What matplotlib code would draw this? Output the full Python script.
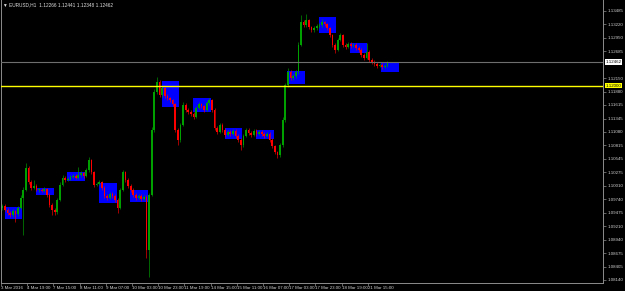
import matplotlib
matplotlib.use('Agg')
import numpy as np
import matplotlib.pyplot as plt
from matplotlib.patches import Rectangle
from matplotlib.transforms import blended_transform_factory

# EURUSD H1 chart, candles (grouped by 2 hours)
title = '\u25bc EURUSD,H1  1.12266 1.12441 1.12348 1.12462'
first_open = 1.0957
closes = [
    1.0961, 1.0953, 1.0947, 1.0943, 1.0951, 1.0945, 1.0957, 1.0977, 1.0993, 1.1036,
    1.1009, 1.0997, 1.1001, 1.0993, 1.0993, 1.0991, 1.0995, 1.0983, 1.0963, 1.0953,
    1.0949, 1.0973, 1.1003, 1.1017, 1.1013, 1.1015, 1.1019, 1.1021, 1.1017, 1.1022,
    1.1026, 1.1021, 1.1032, 1.1052, 1.1028, 1.1003, 1.1005, 1.1009, 1.0997, 1.0981,
    1.0977, 1.0985, 1.0981, 1.0973, 1.0957, 1.0993, 1.1028, 1.1013, 1.1001, 1.0993,
    1.0983, 1.0977, 1.0981, 1.0975, 1.0979, 1.0874, 1.0983, 1.1112, 1.1187, 1.1207,
    1.1181, 1.1195, 1.1179, 1.1175, 1.1171, 1.1163, 1.1112, 1.1092, 1.1122, 1.1162,
    1.1152, 1.1148, 1.1144, 1.1138, 1.1156, 1.1163, 1.1159, 1.1152, 1.1165, 1.1171,
    1.1152, 1.1116, 1.1108, 1.1122, 1.1112, 1.1102, 1.1108, 1.1104, 1.1110, 1.1100,
    1.1092, 1.1082, 1.1100, 1.1112, 1.1106, 1.1102, 1.1110, 1.1104, 1.1108, 1.1104,
    1.1100, 1.1104, 1.1092, 1.1080, 1.1068, 1.1062, 1.1082, 1.1132, 1.1201, 1.1227,
    1.1215, 1.1219, 1.1227, 1.1281, 1.1326, 1.1320, 1.1330, 1.1316, 1.1310, 1.1314,
    1.1318, 1.1320, 1.1326, 1.1322, 1.1314, 1.1300, 1.1281, 1.1271, 1.1291, 1.1300,
    1.1281, 1.1277, 1.1283, 1.1279, 1.1281, 1.1275, 1.1271, 1.1261, 1.1255, 1.1267,
    1.1251, 1.1247, 1.1243, 1.1239, 1.1241, 1.1237, 1.1239, 1.1246,
]
highs = [
    1.0965, 1.0964, 1.0956, 1.0950, 1.0954, 1.0953, 1.0960, 1.0983, 1.0998, 1.1046,
    1.1040, 1.1012, 1.1013, 1.1004, 1.0997, 1.0996, 1.0998, 1.0997, 1.0986, 1.0966,
    1.0957, 1.0976, 1.1008, 1.1022, 1.1020, 1.1019, 1.1023, 1.1025, 1.1024, 1.1038,
    1.1030, 1.1029, 1.1036, 1.1058, 1.1055, 1.1031, 1.1009, 1.1013, 1.1011, 1.1000,
    1.0985, 1.0989, 1.0988, 1.0984, 1.0976, 1.0997, 1.1032, 1.1031, 1.1016, 1.1004,
    1.0996, 1.0986, 1.0985, 1.0984, 1.0983, 1.0982, 1.0987, 1.1118, 1.1193, 1.1217,
    1.1211, 1.1200, 1.1198, 1.1183, 1.1178, 1.1174, 1.1166, 1.1115, 1.1126, 1.1167,
    1.1165, 1.1155, 1.1151, 1.1147, 1.1160, 1.1167, 1.1166, 1.1162, 1.1169, 1.1176,
    1.1174, 1.1155, 1.1119, 1.1126, 1.1125, 1.1115, 1.1112, 1.1111, 1.1114, 1.1113,
    1.1103, 1.1095, 1.1104, 1.1116, 1.1115, 1.1109, 1.1114, 1.1113, 1.1112, 1.1111,
    1.1107, 1.1108, 1.1107, 1.1095, 1.1083, 1.1071, 1.1086, 1.1137, 1.1206, 1.1235,
    1.1230, 1.1223, 1.1231, 1.1286, 1.1340, 1.1330, 1.1342, 1.1333, 1.1319, 1.1318,
    1.1322, 1.1324, 1.1333, 1.1329, 1.1325, 1.1317, 1.1303, 1.1284, 1.1295, 1.1305,
    1.1303, 1.1284, 1.1287, 1.1286, 1.1285, 1.1284, 1.1278, 1.1274, 1.1264, 1.1285,
    1.1270, 1.1254, 1.1250, 1.1246, 1.1245, 1.1244, 1.1242, 1.1249,
]
lows = [
    1.0953, 1.0950, 1.0943, 1.0940, 1.0940, 1.0929, 1.0942, 1.0954, 1.0903, 1.0990,
    1.1005, 1.0993, 1.0994, 1.0990, 1.0989, 1.0988, 1.0988, 1.0979, 1.0958, 1.0943,
    1.0944, 1.0946, 1.0970, 1.1000, 1.1009, 1.1010, 1.1012, 1.1016, 1.1014, 1.1014,
    1.1018, 1.1017, 1.1018, 1.1029, 1.1024, 1.0999, 1.1000, 1.1002, 1.0993, 1.0977,
    1.0973, 1.0974, 1.0977, 1.0969, 1.0947, 1.0954, 1.0990, 1.1009, 1.0997, 1.0989,
    1.0979, 1.0973, 1.0974, 1.0971, 1.0972, 1.0858, 1.0820, 1.0980, 1.1108, 1.1183,
    1.1177, 1.1178, 1.1175, 1.1171, 1.1167, 1.1159, 1.1108, 1.1082, 1.1088, 1.1119,
    1.1148, 1.1144, 1.1140, 1.1134, 1.1135, 1.1153, 1.1155, 1.1148, 1.1149, 1.1162,
    1.1148, 1.1112, 1.1104, 1.1105, 1.1108, 1.1098, 1.1099, 1.1100, 1.1101, 1.1096,
    1.1088, 1.1072, 1.1079, 1.1097, 1.1102, 1.1098, 1.1099, 1.1100, 1.1101, 1.1100,
    1.1096, 1.1097, 1.1088, 1.1076, 1.1064, 1.1056, 1.1059, 1.1079, 1.1128, 1.1197,
    1.1211, 1.1212, 1.1216, 1.1224, 1.1278, 1.1316, 1.1317, 1.1312, 1.1306, 1.1307,
    1.1311, 1.1315, 1.1317, 1.1318, 1.1310, 1.1296, 1.1277, 1.1265, 1.1268, 1.1288,
    1.1277, 1.1273, 1.1274, 1.1275, 1.1276, 1.1271, 1.1267, 1.1257, 1.1251, 1.1252,
    1.1247, 1.1243, 1.1239, 1.1235, 1.1236, 1.1233, 1.1234, 1.1236,
]
hours_per_candle = 2

# session boxes (hour index on the chart, price range)
box_start = [2.8, 26.7, 50.6, 74.8, 98.5, 122.9, 146.8, 170.8, 194.7, 218.3, 242.7, 266.2, 290.3]
box_end = [15.8, 40.2, 64.4, 88.3, 112.0, 136.1, 160.3, 184.2, 208.2, 232.0, 255.7, 279.6, 303.8]
box_high = [1.0958, 1.0997, 1.1028, 1.1007, 1.0993, 1.1209, 1.1176, 1.1115, 1.1112, 1.1229, 1.1336, 1.1285, 1.1246]
box_low = [1.0935, 1.0983, 1.1011, 1.0967, 1.0969, 1.1158, 1.1147, 1.1093, 1.1093, 1.1204, 1.1305, 1.1264, 1.1228]

price_ticks = [1.13485, 1.13220, 1.12950, 1.12685, 1.12150, 1.11880, 1.11615,
               1.11345, 1.11080, 1.10815, 1.10545, 1.10275, 1.10010, 1.09740,
               1.09475, 1.09210, 1.08940, 1.08675, 1.08405, 1.08140]
time_labels = ['3 Mar 2016', '4 Mar 19:00', '7 Mar 15:00', '8 Mar 11:00', '9 Mar 07:00',
               '10 Mar 03:00', '10 Mar 23:00', '11 Mar 19:00', '14 Mar 15:00',
               '15 Mar 11:00', '16 Mar 07:00', '17 Mar 03:00', '17 Mar 23:00',
               '18 Mar 19:00', '21 Mar 15:00']
bars_per_label = 20
bid_price = 1.12462
level_price = 1.12000

FONT = ['Liberation Sans', 'DejaVu Sans']


def main():
    c = np.array(closes)
    o = np.array([first_open] + closes[:-1])
    h = np.array(highs)
    l = np.array(lows)
    x = np.arange(len(c)) * hours_per_candle + hours_per_candle / 2

    plt.rcParams['font.family'] = FONT
    fig = plt.figure(figsize=(6.25, 2.91), dpi=100, facecolor='black')
    ax = fig.add_axes([1 / 625, 8 / 291, 602 / 625, 283 / 291], facecolor='black')

    for s, e, top, bot in zip(box_start, box_end, box_high, box_low):
        ax.add_patch(Rectangle((s, bot), e - s, top - bot, facecolor='#0000ff',
                               edgecolor='none', zorder=1))

    up = c >= o
    cols = np.where(up, '#00a000', '#ff0000')
    ax.vlines(x, l, h, colors=cols, linewidth=0.45, zorder=2)
    body = np.maximum(np.abs(c - o), 0.00008)
    ax.bar(x, body, bottom=np.minimum(o, c), width=1.3, color=cols,
           edgecolor='none', zorder=2)

    ax.axhline(level_price, color='#ffff00', linewidth=1.0, zorder=3)
    ax.axhline(bid_price, color='#6e6e6e', linewidth=0.8, zorder=3)

    ax.set_xlim(0, 459.5)
    ax.set_ylim(1.08080, 1.13700)

    for side in ['left', 'bottom', 'right']:
        ax.spines[side].set_color('#8c8c8c')
        ax.spines[side].set_linewidth(0.7)
    ax.spines['top'].set_visible(False)

    ax.yaxis.tick_right()
    ax.set_yticks(price_ticks)
    ax.set_yticklabels(['%.5f' % p for p in price_ticks])
    ax.tick_params(axis='y', colors='#8c8c8c', labelcolor='#d0d0d0',
                   labelsize=3.2, length=2, width=0.5, pad=1.5)

    ax.set_xticks(np.arange(len(time_labels)) * bars_per_label)
    ax.set_xticklabels(time_labels)
    ax.tick_params(axis='x', colors='#8c8c8c', labelcolor='#d0d0d0',
                   labelsize=3.2, length=2, width=0.5, pad=0.3)
    for lbl in ax.get_xticklabels():
        lbl.set_horizontalalignment('left')

    trans = blended_transform_factory(ax.transAxes, ax.transData)
    ax.text(1.004, bid_price, '%.5f' % bid_price, transform=trans, fontsize=3.2,
            color='black', va='center', ha='left',
            bbox=dict(facecolor='white', edgecolor='none', pad=0.6))
    ax.text(1.004, level_price, '%.5f' % level_price, transform=trans, fontsize=3.2,
            color='black', va='center', ha='left',
            bbox=dict(facecolor='#ffff00', edgecolor='none', pad=0.6))

    fig.text(3 / 625, 1 - 5 / 291, title, fontsize=3.4, color='#e0e0e0',
             va='center', ha='left')

    fig.savefig('out.png', dpi=100, facecolor='black')


if __name__ == '__main__':
    main()
